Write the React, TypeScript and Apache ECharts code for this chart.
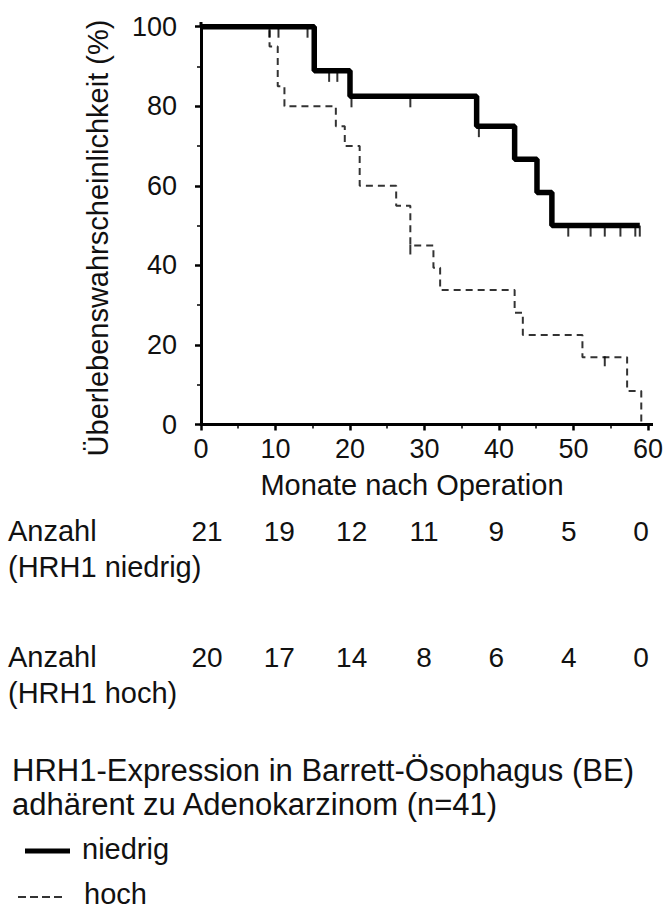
import React, { useEffect, useRef } from "react";
import * as echarts from "echarts";

// Kaplan–Meier step points (time in months, survival in %)
const lowTimes = [0, 15.2, 20.0, 37.0, 42.1, 45.1, 47.1, 58.9];
const lowSurv = [100, 88.9, 82.5, 75.0, 66.7, 58.3, 50.0, 50.0];
const lowCensor = [9.2, 10.4, 14.3, 17.2, 18.3, 20.2, 28.1, 37.3, 49.3, 52.3, 54.2, 56.3, 58.3, 58.9];

const highTimes = [0, 9.2, 10.3, 11.2, 18.1, 19.3, 21.3, 26.2, 28.1, 31.2, 32.1, 42.1, 43.2, 51.2, 57.2, 59.1];
const highSurv = [100, 95, 85, 80, 75, 70, 60, 55, 45, 39.4, 33.8, 28.1, 22.5, 16.9, 8.4, 0];
const highCensor = [28.1, 54.2];

// numbers at risk
const atRiskTimes = [0, 10, 20, 30, 40, 50, 60];
const atRiskLow = [21, 19, 12, 11, 9, 5, 0];
const atRiskHigh = [20, 17, 14, 8, 6, 4, 0];

const yTitle = "Überlebenswahrscheinlichkeit (%)";
const xTitle = "Monate nach Operation";
const rowLabel = "Anzahl";
const rowLowSub = "(HRH1 niedrig)";
const rowHighSub = "(HRH1 hoch)";
const legendTitle1 = "HRH1-Expression in Barrett-Ösophagus (BE)";
const legendTitle2 = "adhärent zu Adenokarzinom (n=41)";
const legendLow = "niedrig";
const legendHigh = "hoch";

const FONT = "'Liberation Sans', Arial, sans-serif";
const TXT = "#111";

function survAt(times: number[], surv: number[], t: number) {
  let v = surv[0];
  for (let i = 0; i < times.length; i++) if (times[i] <= t) v = surv[i];
  return v;
}

export default function App() {
  const ref = useRef<HTMLDivElement>(null);
  useEffect(() => {
    if (!ref.current) return;
    const chart = echarts.init(ref.current, null, { renderer: "svg" });
    const txt = (text: string, x: number, y: number, size: number, extra: any = {}) => ({
      type: "text",
      x,
      y,
      style: { text, fill: TXT, font: `${size}px ${FONT}`, textVerticalAlign: "middle", ...extra },
    });
    const hiddenX = (gridIndex: number) => ({ type: "value", gridIndex, min: 0, max: 60, show: false });
    const hiddenY = (gridIndex: number) => ({ type: "category", gridIndex, data: ["r"], show: false });
    const rowSeries = (gridIndex: number, vals: number[]) => ({
      type: "scatter",
      xAxisIndex: gridIndex,
      yAxisIndex: gridIndex,
      symbolSize: 0,
      itemStyle: { color: "#000", opacity: 0 },
      data: atRiskTimes.map((t) => [t, "r"]),
      label: {
        show: true,
        position: "inside",
        formatter: (p: any) => String(vals[p.dataIndex]),
        fontSize: 28,
        fontFamily: FONT,
        color: TXT,
        opacity: 1,
        textBorderWidth: 0,
        textBorderColor: "transparent",
      },
    });
    chart.setOption({
      animation: false,
      backgroundColor: "#fff",
      grid: [
        { left: 201, top: 26.7, width: 447.3, height: 397.8 },
        { left: 207, top: 516, width: 434, height: 30 },
        { left: 207, top: 642, width: 434, height: 30 },
      ],
      xAxis: [
        {
          type: "value",
          gridIndex: 0,
          min: 0,
          max: 60,
          interval: 10,
          axisLine: { show: true, onZero: false, lineStyle: { color: "#000", width: 3 } },
          axisTick: { show: true, length: 6, lineStyle: { color: "#000", width: 2.5 } },
          minorTick: { show: true, splitNumber: 2, length: 4, lineStyle: { color: "#000", width: 1.5 } },
          splitLine: { show: false },
          axisLabel: { fontSize: 27, fontFamily: FONT, color: TXT, margin: 11 },
        },
        hiddenX(1),
        hiddenX(2),
      ],
      yAxis: [
        {
          type: "value",
          gridIndex: 0,
          min: 0,
          max: 100,
          interval: 20,
          axisLine: { show: true, onZero: false, lineStyle: { color: "#000", width: 3 } },
          axisTick: { show: true, length: 6, lineStyle: { color: "#000", width: 2.5 } },
          minorTick: { show: true, splitNumber: 2, length: 4, lineStyle: { color: "#000", width: 1.5 } },
          splitLine: { show: false },
          axisLabel: { fontSize: 27, fontFamily: FONT, color: TXT, margin: 24 },
        },
        hiddenY(1),
        hiddenY(2),
      ],
      series: [
        {
          type: "line",
          name: legendHigh,
          step: "end",
          symbol: "none",
          data: highTimes.map((t, i) => [t, highSurv[i]]),
          lineStyle: { color: "#333", width: 2, type: [7, 5] },
          z: 2,
        },
        {
          type: "line",
          name: legendLow,
          step: "end",
          symbol: "none",
          data: lowTimes.map((t, i) => [t, lowSurv[i]]),
          lineStyle: { color: "#000", width: 5.5 },
          z: 3,
        },
        {
          type: "scatter",
          symbol: "rect",
          symbolSize: [2, 11],
          symbolOffset: [0, 5.5],
          itemStyle: { color: "#000" },
          data: lowCensor.map((t) => [t, survAt(lowTimes, lowSurv, t)]),
          z: 4,
        },
        {
          type: "scatter",
          symbol: "rect",
          symbolSize: [2, 10],
          symbolOffset: [0, 4],
          itemStyle: { color: "#000" },
          data: highCensor.map((t) => [t, survAt(highTimes, highSurv, t)]),
          z: 4,
        },
        rowSeries(1, atRiskLow),
        rowSeries(2, atRiskHigh),
      ],
      graphic: [
        { ...txt(yTitle, 98, 238, 29, { textAlign: "center" }), rotation: Math.PI / 2 },
        txt(xTitle, 412, 485, 29, { textAlign: "center" }),
        txt(rowLabel, 8, 531, 29),
        txt(rowLowSub, 8, 567, 29),
        txt(rowLabel, 8, 657, 29),
        txt(rowHighSub, 8, 693, 29),
        txt(legendTitle1, 12, 770, 31),
        txt(legendTitle2, 12, 804, 31),
        {
          type: "line",
          shape: { x1: 25, y1: 851, x2: 70, y2: 851 },
          style: { stroke: "#000", lineWidth: 5 },
        },
        txt(legendLow, 82, 849, 29),
        {
          type: "line",
          shape: { x1: 18, y1: 897, x2: 64, y2: 897 },
          style: { stroke: "#333", lineWidth: 2, lineDash: [8, 4] },
        },
        txt(legendHigh, 84, 894, 29),
        {
          type: "line",
          shape: { x1: 648, y1: 424.5, x2: 653, y2: 424.5 },
          style: { stroke: "#000", lineWidth: 3 },
        },
        {
          type: "line",
          shape: { x1: 201, y1: 22, x2: 201, y2: 27 },
          style: { stroke: "#000", lineWidth: 3 },
        },
      ],
    });
    return () => chart.dispose();
  }, []);
  return <div ref={ref} style={{ position: "absolute", left: 0, top: 0, width: 666, height: 914 }} />;
}
